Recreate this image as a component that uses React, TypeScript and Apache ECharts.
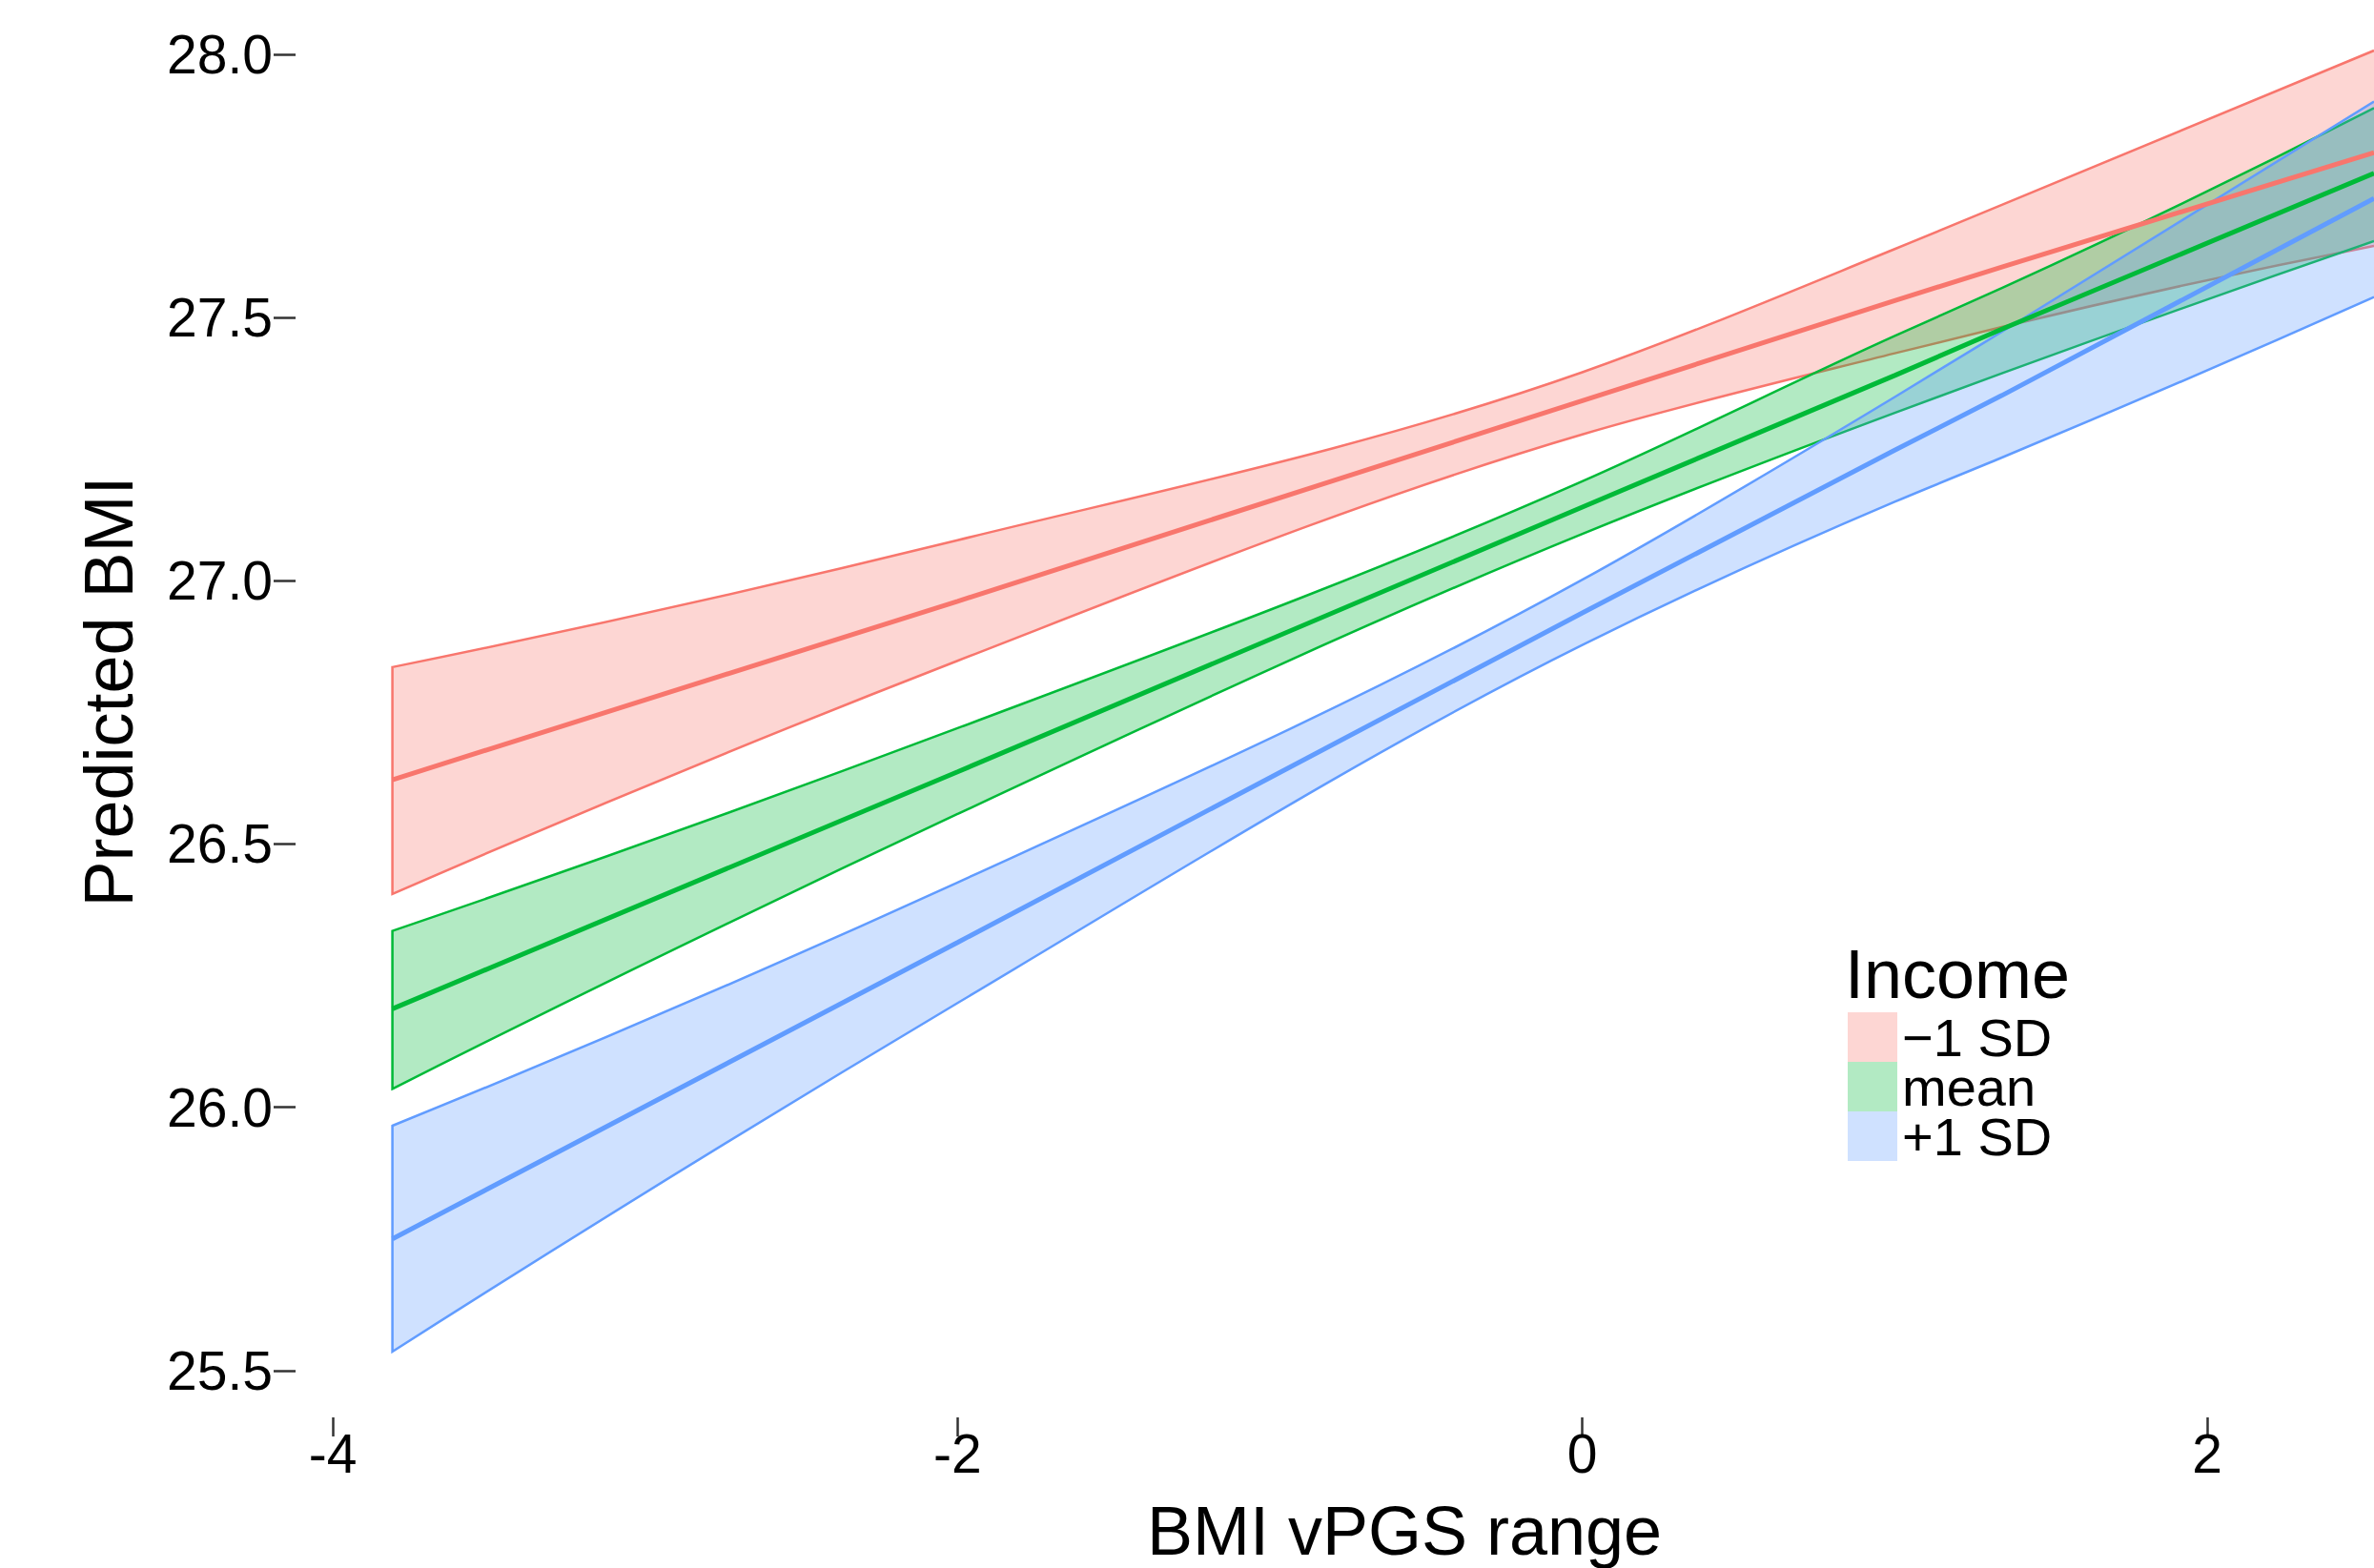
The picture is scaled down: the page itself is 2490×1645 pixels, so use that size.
import React, { useEffect, useRef } from "react";
import * as echarts from "echarts";

// BMI vPGS values at which the predictions were read
const xValues = [-3.809, -2, 0, 1, 1.343, 2.534];

// Income −1 SD
const lowLower = [26.405, 26.848, 27.278, 27.432, 27.482, 27.636];
const lowMid = [26.622, 26.961, 27.342, 27.532, 27.596, 27.813];
const lowUpper = [26.836, 27.077, 27.396, 27.63, 27.714, 28.007];

// Income mean
const meanLower = [26.035, 26.557, 27.089, 27.319, 27.394, 27.645];
const meanMid = [26.187, 26.637, 27.14, 27.39, 27.478, 27.774];
const meanUpper = [26.335, 26.72, 27.189, 27.465, 27.556, 27.898];

// Income +1 SD
const highLower = [25.536, 26.198, 26.878, 27.15, 27.234, 27.539];
const highMid = [25.75, 26.313, 26.939, 27.248, 27.352, 27.726];
const highUpper = [25.965, 26.427, 27.002, 27.349, 27.473, 27.91];

const groupNames = ["\u22121 SD", "mean", "+1 SD"];
const lineColors = ["#F8766D", "#00BA38", "#619CFF"];
const fillColors = ["rgba(248,118,109,0.3)", "rgba(0,186,56,0.3)", "rgba(97,156,255,0.3)"];

const xTicks = [-4, -2, 0, 2];
const yTicks = [25.5, 26.0, 26.5, 27.0, 27.5, 28.0];

const FONT = "'Liberation Sans', Arial, sans-serif";

// smooth curve through already-projected pixel points (cubic Hermite as Béziers)
function curveControls(pts: number[][]) {
  const n = pts.length;
  const h: number[] = [];
  const d: number[] = [];
  for (let k = 0; k < n - 1; k++) {
    h.push(pts[k + 1][0] - pts[k][0]);
    d.push((pts[k + 1][1] - pts[k][1]) / h[k]);
  }
  const m: number[] = new Array(n).fill(0);
  if (n === 2) {
    m[0] = d[0];
    m[1] = d[0];
  } else {
    m[0] = ((2 * h[0] + h[1]) * d[0] - h[0] * d[1]) / (h[0] + h[1]);
    const a = n - 2;
    m[n - 1] = ((2 * h[a] + h[a - 1]) * d[a] - h[a] * d[a - 1]) / (h[a] + h[a - 1]);
    for (let k = 1; k < n - 1; k++) {
      m[k] = (h[k] * d[k - 1] + h[k - 1] * d[k]) / (h[k - 1] + h[k]);
    }
  }
  const segs: number[][][] = [];
  for (let k = 0; k < n - 1; k++) {
    const c1 = [pts[k][0] + h[k] / 3, pts[k][1] + (m[k] * h[k]) / 3];
    const c2 = [pts[k + 1][0] - h[k] / 3, pts[k + 1][1] - (m[k + 1] * h[k]) / 3];
    segs.push([c1, c2]);
  }
  return segs;
}

function drawForward(ctx: any, pts: number[][]) {
  const segs = curveControls(pts);
  for (let k = 0; k < segs.length; k++) {
    const [c1, c2] = segs[k];
    ctx.bezierCurveTo(c1[0], c1[1], c2[0], c2[1], pts[k + 1][0], pts[k + 1][1]);
  }
}

function drawBackward(ctx: any, pts: number[][]) {
  const segs = curveControls(pts);
  for (let k = segs.length - 1; k >= 0; k--) {
    const [c1, c2] = segs[k];
    ctx.bezierCurveTo(c2[0], c2[1], c1[0], c1[1], pts[k][0], pts[k][1]);
  }
}

echarts.graphic.registerShape(
  "ciBand",
  (echarts.graphic as any).extendShape({
    type: "ciBand",
    shape: { up: [], low: [], closed: true },
    buildPath(ctx: any, shape: any) {
      const up: number[][] = shape.up;
      const low: number[][] = shape.low;
      if (!up || up.length < 2) return;
      const n = up.length;
      if (shape.closed) {
        ctx.moveTo(up[0][0], up[0][1]);
        drawForward(ctx, up);
        ctx.lineTo(low[n - 1][0], low[n - 1][1]);
        drawBackward(ctx, low);
        ctx.closePath();
      } else {
        ctx.moveTo(up[n - 1][0], up[n - 1][1]);
        drawBackward(ctx, up);
        ctx.lineTo(low[0][0], low[0][1]);
        drawForward(ctx, low);
      }
    },
  })
);

export default function App() {
  const ref = useRef<HTMLDivElement>(null);

  useEffect(() => {
    if (!ref.current) return;
    const chart = echarts.init(ref.current, undefined, { renderer: "svg" });

    const groups = [
      { lo: lowLower, mid: lowMid, hi: lowUpper },
      { lo: meanLower, mid: meanMid, hi: meanUpper },
      { lo: highLower, mid: highMid, hi: highUpper },
    ].map((g, k) => ({ ...g, name: groupNames[k], line: lineColors[k], fill: fillColors[k] }));

    const series: any[] = [];
    groups.forEach((g) => {
      series.push({
        type: "custom",
        name: g.name,
        itemStyle: { color: g.fill },
        encode: { x: 0, y: [1, 2] },
        data: xValues.map((x, i) => [x, g.lo[i], g.hi[i]]),
        renderItem: (params: any, api: any) => {
          if (params.dataIndex !== 0) return null;
          const up = xValues.map((x, i) => api.coord([x, g.hi[i]]));
          const low = xValues.map((x, i) => api.coord([x, g.lo[i]]));
          return {
            type: "group",
            children: [
              {
                type: "ciBand",
                shape: { up, low, closed: true },
                style: { fill: g.fill, stroke: "none" },
                silent: true,
              },
              {
                type: "ciBand",
                shape: { up, low, closed: false },
                style: { fill: "none", stroke: g.line, lineWidth: 2.5 },
                silent: true,
              },
            ],
          };
        },
      });
      series.push({
        type: "line",
        name: "fit " + g.name,
        data: xValues.map((x, i) => [x, g.mid[i]]),
        symbol: "none",
        showSymbol: false,
        lineStyle: { color: g.line, width: 5 },
        itemStyle: { color: g.line },
        silent: true,
      });
    });

    const option: any = {
      animation: false,
      backgroundColor: "#ffffff",
      textStyle: { fontFamily: FONT },
      grid: { left: 310, right: 0, top: 0, bottom: 158, containLabel: false, outerBoundsMode: "none" },
      title: {
        text: "Income",
        left: 1935,
        top: 986,
        padding: 0,
        textStyle: { fontSize: 72, fontWeight: "normal", color: "#000", fontFamily: FONT },
      },
      legend: {
        orient: "vertical",
        left: 1938,
        top: 1060,
        padding: 0,
        itemWidth: 52,
        itemHeight: 52,
        itemGap: -4,
        icon: "rect",
        selectedMode: false,
        textStyle: { fontSize: 56, color: "#000", fontFamily: FONT, lineHeight: 56 },
        data: groups.map((g) => ({ name: g.name, icon: "rect", itemStyle: { color: g.fill, borderWidth: 0 } })),
      },
      xAxis: {
        type: "value",
        min: -4.119,
        max: 2.534,
        axisLine: { show: false, onZero: false },
        splitLine: { show: false },
        axisTick: { show: true, length: 20, customValues: xTicks, lineStyle: { color: "#333", width: 2.5 } },
        axisLabel: {
          customValues: xTicks,
          fontSize: 57,
          color: "#000",
          fontFamily: FONT,
          margin: 9,
          formatter: (v: number) => String(v),
        },
        name: "BMI vPGS range",
        nameLocation: "middle",
        nameGap: 83,
        nameTextStyle: { fontSize: 72, color: "#000", fontFamily: FONT, padding: [0, 0, 0, 146] },
      },
      yAxis: {
        type: "value",
        min: 25.411,
        max: 28.103,
        axisLine: { show: false, onZero: false },
        splitLine: { show: false },
        axisTick: { show: true, length: 23, customValues: yTicks, lineStyle: { color: "#333", width: 2.5 } },
        axisLabel: {
          customValues: yTicks,
          fontSize: 57,
          color: "#000",
          fontFamily: FONT,
          margin: 24,
          formatter: (v: number) => v.toFixed(1),
        },
        name: "Predicted BMI",
        nameLocation: "middle",
        nameGap: 160,
        nameTextStyle: { fontSize: 72, color: "#000", fontFamily: FONT, padding: [0, 0, 0, 36] },
      },
      series,
    };

    chart.setOption(option);
    return () => chart.dispose();
  }, []);

  return (
    <div
      ref={ref}
      style={{ position: "absolute", left: 0, top: 0, width: 2490, height: 1645, background: "#fff" }}
    />
  );
}
